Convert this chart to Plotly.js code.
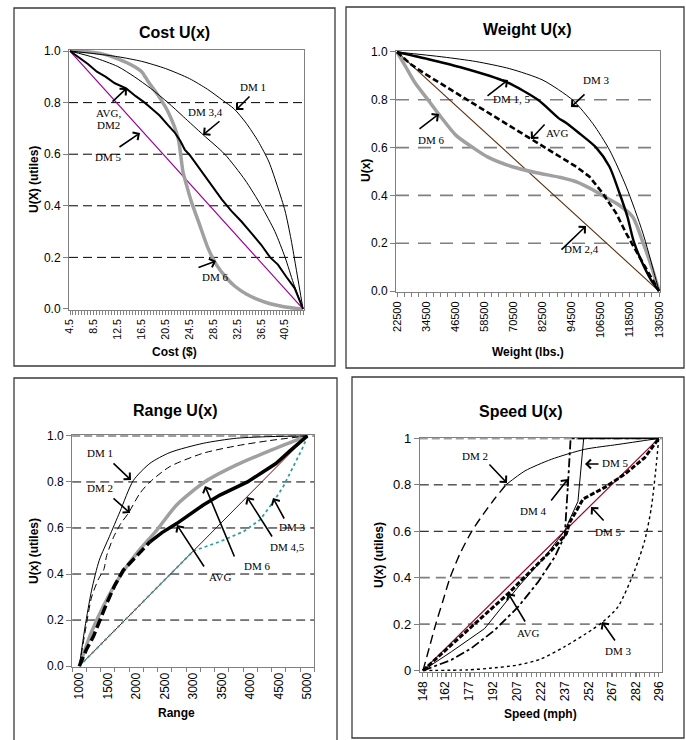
<!DOCTYPE html>
<html><head><meta charset="utf-8">
<script src="https://cdn.plot.ly/plotly-3.0.1.min.js"></script>
<style>html,body{margin:0;padding:0;background:#fff;} #chart{width:686px;height:740px;}</style>
</head><body><div id="chart"></div>
<script>
// ---------------- DATA ----------------
const utilTicks = [0, 0.2, 0.4, 0.6, 0.8, 1.0];
const speedUtilLabels = ['0', '0.2', '0.4', '0.6', '0.8', '1'];
const gridLevels = [0.2, 0.4, 0.6, 0.8];

// Cost U(x)
const costTicks = [4.5, 8.5, 12.5, 16.5, 20.5, 24.5, 28.5, 32.5, 36.5, 40.5];
const costDM1X = [4.5, 8.5, 12.5, 16.5, 20.5, 24.5, 27.5, 30, 32, 34, 36, 37.8, 39.3, 40.5, 41.5, 42.4, 43.5];
const costDM1U = [1, 0.99, 0.978, 0.96, 0.932, 0.893, 0.852, 0.81, 0.775, 0.72, 0.65, 0.57, 0.47, 0.38, 0.27, 0.15, 0];
const costDM34X = [4.5, 8.5, 12.5, 15.3, 18, 20.9, 23.5, 26.8, 30.4, 33.8, 36.5, 38.8, 40.5, 41.9, 43.5];
const costDM34U = [1, 0.975, 0.94, 0.9, 0.855, 0.8, 0.745, 0.675, 0.6, 0.5, 0.4, 0.3, 0.2, 0.1, 0];
const costAvgX = [4.5, 6, 7.5, 9, 10.5, 12, 13.9, 15.5, 17, 18.1, 19.5, 20.9, 22, 23, 23.7, 24.5, 26.5, 28, 29.9, 31.5, 33.2, 35, 36.5, 38, 39.3, 40.7, 42.1, 43.5];
const costAvgU = [1, 0.975, 0.95, 0.92, 0.9, 0.875, 0.855, 0.825, 0.8, 0.778, 0.75, 0.713, 0.685, 0.65, 0.618, 0.598, 0.535, 0.485, 0.425, 0.38, 0.339, 0.29, 0.249, 0.2, 0.172, 0.125, 0.081, 0];
const costDM5X = [4.5, 43.5];
const costDM5U = [1, 0];
const costDM6X = [4.5, 7, 9.75, 12.5, 14.8, 16.5, 17.6, 19.2, 20.9, 22.6, 23.4, 24, 24.8, 26.2, 27.6, 29, 30.7, 32.1, 34, 36, 38, 40.5, 43.5];
const costDM6U = [1, 0.998, 0.99, 0.97, 0.946, 0.92, 0.881, 0.83, 0.765, 0.662, 0.533, 0.481, 0.417, 0.326, 0.236, 0.172, 0.12, 0.088, 0.058, 0.036, 0.02, 0.008, 0];

// Weight U(x)
const weightTicks = [22500, 34500, 46500, 58500, 70500, 82500, 94500, 106500, 118500, 130500];
const wDM24X = [22500, 130500];
const wDM24U = [1, 0];
const wDM3X = [22500, 41460, 55000, 68950, 82650, 95000, 103250, 110150, 117000, 123900, 130500];
const wDM3U = [1, 0.979, 0.96, 0.93, 0.882, 0.798, 0.70, 0.589, 0.436, 0.241, 0];
const wDM15X = [22500, 34580, 48330, 67540, 80590, 89530, 92000, 97000, 104600, 110100, 114200, 117500, 120000, 123500, 127000, 130500];
const wDM15U = [1, 0.972, 0.937, 0.875, 0.80, 0.72, 0.705, 0.665, 0.6, 0.52, 0.41, 0.31, 0.21, 0.12, 0.05, 0];
const wAvgX = [22500, 28000, 34580, 41450, 51060, 62050, 70000, 77840, 86770, 96380, 101870, 107370, 112860, 116980, 123160, 130500];
const wAvgU = [1, 0.95, 0.905, 0.862, 0.80, 0.732, 0.683, 0.634, 0.579, 0.52, 0.478, 0.408, 0.325, 0.241, 0.13, 0];
const wDM6X = [22500, 26000, 30000, 35270, 40090, 46940, 53800, 60000, 70000, 80000, 90000, 97000, 103000, 108000, 114000, 119700, 124000, 127500, 130500];
const wDM6U = [1, 0.94, 0.87, 0.8, 0.735, 0.65, 0.6, 0.56, 0.52, 0.495, 0.475, 0.455, 0.425, 0.395, 0.36, 0.31, 0.2, 0.1, 0];

// Range U(x)
const rangeTicks = [1000, 1500, 2000, 2500, 3000, 3500, 4000, 4500, 5000];
const rDM1X = [1000, 1100, 1216, 1350, 1526, 1713, 1947, 2240, 2591, 3175, 3760, 4345, 5000];
const rDM1U = [0, 0.17, 0.33, 0.46, 0.562, 0.671, 0.806, 0.881, 0.928, 0.968, 0.99, 0.997, 1];
const rDM2X = [1000, 1110, 1216, 1340, 1430, 1480, 1600, 1730, 1860, 2064, 2240, 2591, 3175, 3760, 4345, 5000];
const rDM2U = [0, 0.16, 0.3, 0.38, 0.42, 0.48, 0.56, 0.62, 0.664, 0.751, 0.80, 0.867, 0.925, 0.957, 0.98, 1];
const rDM6X = [1000, 1200, 1421, 1713, 2006, 2357, 2708, 3205, 3760, 4345, 5000];
const rDM6U = [0, 0.14, 0.26, 0.39, 0.49, 0.59, 0.70, 0.801, 0.874, 0.936, 1];
const rAvgX = [1000, 1120, 1246, 1360, 1480, 1620, 1772, 2006, 2240, 2450, 2708, 2950, 3175, 3468, 3700, 3950, 4200, 4450, 4696, 5000];
const rAvgU = [0, 0.07, 0.128, 0.2, 0.272, 0.35, 0.417, 0.478, 0.54, 0.58, 0.619, 0.66, 0.70, 0.743, 0.77, 0.80, 0.84, 0.88, 0.935, 1];
const rDM45X = [1000, 5000];
const rDM45U = [0, 1];
const rDM3X = [1000, 3000, 3468, 3877, 4170, 4404, 4579, 4754, 4930, 5000];
const rDM3U = [0, 0.5, 0.541, 0.584, 0.635, 0.714, 0.78, 0.867, 0.954, 1];

// Speed U(x)
const speedTicks = [148, 162, 177, 192, 207, 222, 237, 252, 267, 282, 296];
const sDM5RedX = [148, 296];
const sDM5RedU = [0, 1];
const sDM2X = [148, 152, 156, 160.5, 165, 171, 178.6, 186, 193, 200, 212, 228.6, 249.5, 270.4, 296];
const sDM2U = [0, 0.1, 0.2, 0.3, 0.4, 0.5, 0.6, 0.675, 0.74, 0.8, 0.86, 0.91, 0.953, 0.974, 1];
const sDM5X = [148, 165.8, 186.7, 207.7, 224.4, 237, 245.3, 248.9, 296];
const sDM5U = [0, 0.081, 0.181, 0.36, 0.489, 0.603, 0.729, 1, 1];
const sAvgX = [148, 165.8, 186.7, 201.4, 218.1, 228.6, 238, 240.1, 245.3, 248.5, 262.1, 274.7, 287.2, 296];
const sAvgU = [0, 0.11, 0.238, 0.331, 0.446, 0.517, 0.589, 0.639, 0.70, 0.739, 0.789, 0.846, 0.917, 1];
const sDM4X = [148, 165.8, 178.3, 193, 207.7, 220.2, 230.7, 237, 239, 240.7, 296];
const sDM4U = [0, 0.046, 0.096, 0.174, 0.274, 0.381, 0.489, 0.581, 0.8, 1, 1];
const sDM3X = [148, 176.3, 190, 207.7, 222, 237, 253.7, 261, 270.4, 280.9, 287.2, 291.4, 294.5, 296];
const sDM3U = [0, 0.003, 0.01, 0.024, 0.05, 0.103, 0.174, 0.21, 0.274, 0.431, 0.56, 0.703, 0.889, 1];

// ---------------- FIGURE ----------------
const W = 686, H = 740;
const SANS = 'Liberation Sans, Arial, sans-serif';
const SERIF = 'Liberation Serif, Times New Roman, serif';
const GREY = '#a0a0a0';
const AX = '#808080';
const traces = [];
function line(n, x, y, color, width, dash, shape) {
  const s = n === 1 ? '' : String(n);
  traces.push({type: 'scatter', mode: 'lines', x: x, y: y, xaxis: 'x' + s, yaxis: 'y' + s,
    line: {color: color, width: width, dash: dash || 'solid', shape: shape || 'linear', smoothing: 0.7},
    showlegend: false, hoverinfo: 'skip'});
}
// Cost
line(1, costDM5X, costDM5U, '#990099', 1.2);
line(1, costDM6X, costDM6U, GREY, 3.5, 'solid', 'spline');
line(1, costAvgX, costAvgU, '#000', 2);
line(1, costDM34X, costDM34U, '#000', 1, 'solid', 'spline');
line(1, costDM1X, costDM1U, '#000', 1, 'solid', 'spline');
// Weight
line(2, wDM24X, wDM24U, '#5a2d0c', 1.1);
line(2, wDM6X, wDM6U, GREY, 3.5, 'solid', 'spline');
line(2, wAvgX, wAvgU, '#000', 2.6, '6px,3px');
line(2, wDM15X, wDM15U, '#000', 2.4, 'solid', 'spline');
line(2, wDM3X, wDM3U, '#000', 1, 'solid', 'spline');
// Range
const rSplit = rAvgX.indexOf(2240);
line(3, rDM45X, rDM45U, '#800000', 1);
line(3, rDM3X, rDM3U, '#2e9e9e', 1.8, 'dot');
line(3, rDM6X, rDM6U, GREY, 3.5, 'solid', 'spline');
line(3, rAvgX.slice(0, rSplit + 1), rAvgU.slice(0, rSplit + 1), '#000', 3.5, '10px,4px');
line(3, rAvgX.slice(rSplit), rAvgU.slice(rSplit), '#000', 3.5);
line(3, rDM2X, rDM2U, '#000', 1, '7px,4px', 'spline');
line(3, rDM1X, rDM1U, '#000', 1, 'solid', 'spline');
// Speed
const sSplit = sDM2X.indexOf(200);
line(4, sDM5RedX, sDM5RedU, '#a0002a', 1.2);
line(4, sDM3X, sDM3U, '#000', 1.4, 'dot', 'spline');
line(4, sDM4X, sDM4U, '#000', 1.8, 'dashdot');
line(4, sDM5X, sDM5U, '#000', 1);
line(4, sAvgX, sAvgU, '#000', 3, '5px,2px');
line(4, sDM2X.slice(0, sSplit + 1), sDM2U.slice(0, sSplit + 1), '#000', 1.4, '9px,5px', 'spline');
line(4, sDM2X.slice(sSplit), sDM2U.slice(sSplit), '#000', 1, 'solid', 'spline');

function xAxis(dom, range, tickvals, fmt, size, majorLen, minor, anchor) {
  return {domain: [dom[0] / W, dom[1] / W], range: range, anchor: anchor,
    tickmode: 'array', tickvals: tickvals, tickformat: fmt, tickangle: -90,
    ticks: 'outside', ticklen: majorLen, tickwidth: 1, tickcolor: AX,
    showline: true, linecolor: AX, linewidth: 1, mirror: true,
    showgrid: false, zeroline: false, fixedrange: true,
    tickfont: {family: SANS, size: size, color: '#000'}, minor: minor};
}
function yAxis(dom, tickvals, fmt, ticktext, size, anchor) {
  const a = {domain: [1 - dom[1] / H, 1 - dom[0] / H], range: [-0.004, 1.004], anchor: anchor,
    tickmode: 'array', tickvals: tickvals, ticks: 'outside', ticklen: 5, tickwidth: 1, tickcolor: AX,
    showline: true, linecolor: AX, linewidth: 1, mirror: true,
    showgrid: false, zeroline: false, fixedrange: true,
    tickfont: {family: SANS, size: size, color: '#000'}};
  if (fmt) a.tickformat = fmt;
  if (ticktext) a.ticktext = ticktext;
  return a;
}
const minorCfg = (t0, dt) => ({ticks: 'outside', ticklen: 4, tickwidth: 1, tickcolor: AX, tick0: t0, dtick: dt, showgrid: false});

const layout = {
  width: W, height: H, autosize: false,
  margin: {l: 0, r: 0, t: 0, b: 0, pad: 0},
  paper_bgcolor: '#fff', plot_bgcolor: '#fff', showlegend: false,
  xaxis: xAxis([69, 304], [4.333, 43.667], costTicks, '.1f', 10.5, 4, minorCfg(4.5, 0.5), 'y'),
  yaxis: yAxis([50, 310], utilTicks, '.1f', null, 12, 'x'),
  xaxis2: xAxis([396, 660], [22088, 130912], weightTicks, 'd', 11, 4, minorCfg(22500, 3000), 'y2'),
  yaxis2: yAxis([51, 292], utilTicks, '.1f', null, 12, 'x2'),
  xaxis3: xAxis([72.2, 314.4], [875, 5125], rangeTicks, 'd', 12, 0, minorCfg(875, 250), 'y3'),
  yaxis3: yAxis([435, 667], utilTicks, '.1f', null, 12, 'x3'),
  xaxis4: xAxis([419.8, 661.9], [146, 298], speedTicks, 'd', 12, 4, minorCfg(148, 2.96), 'y4'),
  yaxis4: yAxis([437.5, 671.5], utilTicks, null, speedUtilLabels, 13, 'x4'),
  shapes: [], annotations: []
};

// gridlines
function grid(n, levels, color, width, dash) {
  const s = n === 1 ? '' : String(n);
  levels.forEach(v => layout.shapes.push({type: 'line', xref: 'x' + s + ' domain', yref: 'y' + s,
    x0: 0, x1: 1, y0: v, y1: v, line: {color: color, width: width, dash: dash}, layer: 'below'}));
}
grid(1, gridLevels, '#000', 1, '9px,5px');
grid(2, gridLevels, '#808080', 1.6, '13px,9px');
grid(3, gridLevels, '#000', 1, '9px,5px');
grid(4, [0.6, 0.8], '#000', 1, '9px,5px');
grid(4, [0.2, 0.4], '#808080', 1.8, '10px,6px');
grid(3, [1.0], '#a0a0a0', 2, '8px,4px');
grid(4, [1.0], '#a0a0a0', 2, '8px,4px');

// chart boxes
[[14, 8, 335, 366], [346, 7, 684, 368], [14, 378, 337, 770], [352, 377, 684, 738]].forEach(b =>
  layout.shapes.push({type: 'rect', xref: 'paper', yref: 'paper', x0: b[0] / W, x1: b[2] / W,
    y0: 1 - b[3] / H, y1: 1 - b[1] / H, line: {color: '#3a3a3a', width: 1.3}, fillcolor: 'rgba(0,0,0,0)'}));

const A = layout.annotations;
function txt(text, x, y, size, family, angle) {
  A.push({xref: 'paper', yref: 'paper', x: x / W, y: 1 - y / H, text: text, showarrow: false,
    xanchor: 'center', yanchor: 'middle', textangle: angle || 0,
    font: {family: family || SERIF, size: size || 11, color: '#000'}});
}
function arrow(tail, tip) {
  A.push({xref: 'paper', yref: 'paper', x: tip[0] / W, y: 1 - tip[1] / H,
    ax: tail[0] - tip[0], ay: tail[1] - tip[1], axref: 'pixel', ayref: 'pixel',
    text: '', showarrow: true, arrowhead: 4, arrowsize: 1.1, arrowwidth: 1.6, arrowcolor: '#000', standoff: 0});
}
// titles
txt('<b>Cost U(x)</b>', 174, 33, 16, SANS);
txt('<b>Weight U(x)</b>', 527, 29, 16, SANS);
txt('<b>Range U(x)</b>', 175, 410, 16, SANS);
txt('<b>Speed U(x)</b>', 521, 411, 16, SANS);
// axis titles
txt('<b>Cost ($)</b>', 174, 352, 12, SANS);
txt('<b>Weight (lbs.)</b>', 528, 352, 12, SANS);
txt('<b>Range</b>', 176, 713, 12, SANS);
txt('<b>Speed (mph)</b>', 540, 714, 12, SANS);
txt('<b>U(X) (utiles)</b>', 34, 180, 12, SANS, -90);
txt('<b>U(x)</b>', 366, 171, 12, SANS, -90);
txt('<b>U(x) (utiles)</b>', 34, 551, 12, SANS, -90);
txt('<b>U(x) (utiles)</b>', 379, 555, 12, SANS, -90);

// Cost labels
txt('DM 1', 253, 87); arrow([251, 95], [236, 110]);
txt('DM 3,4', 205, 112); arrow([221, 120], [203, 135]);
txt('AVG,', 108, 113); txt('DM2', 108, 125); arrow([111, 103], [127, 88]);
txt('DM 5', 108, 157); arrow([118, 148], [140, 133]);
txt('DM 6', 215, 277); arrow([197, 268], [216, 261]);
// Weight labels
txt('DM 3', 596, 80); arrow([586, 93], [571, 107]);
txt('DM 1, 5', 511, 99); arrow([486, 97], [508, 80]);
txt('AVG', 557, 133); arrow([546, 123], [531, 139]);
txt('DM 6', 431, 140); arrow([418, 130], [439, 114]);
txt('DM 2,4', 581, 249); arrow([560, 251], [586, 226]);
// Range labels
txt('DM 1', 100, 453); arrow([112, 462], [131, 480]);
txt('DM 2', 100, 488); arrow([112, 497], [130, 513]);
txt('DM 6', 257, 566); arrow([235, 558], [205, 486]);
txt('AVG', 220, 577); arrow([205, 568], [177, 525]);
txt('DM 4,5', 287, 547); arrow([273, 538], [247, 497]);
txt('DM 3', 292, 527); arrow([285, 520], [273, 498]);
// Speed labels
txt('DM 2', 475, 456); arrow([488, 463], [507, 483]);
txt('DM 5', 615, 463); arrow([600, 464], [585, 464]);
txt('DM 4', 533, 511); arrow([550, 502], [568, 479]);
txt('DM 5', 608, 532); arrow([605, 522], [591, 507]);
txt('AVG', 528, 633); arrow([526, 623], [508, 593]);
txt('DM 3', 618, 651); arrow([616, 642], [602, 622]);

Plotly.newPlot('chart', traces, layout, {staticPlot: true, displayModeBar: false});
</script></body></html>
